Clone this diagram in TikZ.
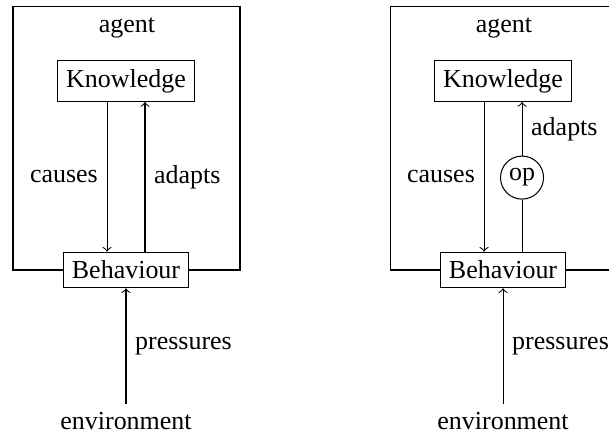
\documentclass[tikz,border=0pt]{standalone}
\usepackage{fontspec}
\setmainfont{Liberation Serif}
\usepackage{tikz}

\tikzset{
    box/.style={draw,rectangle},
    opnode/.style={draw,circle,inner sep=1.6pt}
}

\begin{document}
\begin{tikzpicture}
    \clip (0,0) rectangle (8.24,5.913);

    % Left: without operator
    \node [box] (K1) at (1.705,4.817) {Knowledge};
    \node [box] (B1) at (1.705,2.260) {Behaviour};
    \node (agent1) at (1.718,5.54) {agent};
    \node (env1) at (1.705,0.21) {environment};

    % Agent frame
    \coordinate (F1tl) at (0.176,5.831);
    \coordinate (F1br) at (3.247,2.260);
    \draw (B1.west) -| (F1tl) -| (F1br) -- (B1.east);

    \draw [->] ([xshift=-0.257cm]K1.south)
        -- node [left] {causes} ([xshift=-0.257cm]B1.north);
    \draw [->] ([xshift=0.257cm]B1.north)
        -- node [right] {adapts} ([xshift=0.257cm]K1.south);
    \draw [->] (env1) -- node [right] {pressures} (B1.south);

    % Right: with operator
    \node [box] (K2) at (6.806,4.817) {Knowledge};
    \node [box] (B2) at (6.806,2.260) {Behaviour};
    \node (agent2) at (6.819,5.54) {agent};
    \node (env2) at (6.806,0.21) {environment};
    \node [opnode] (op2) at (7.063,3.51) {op};

    % Agent frame
    \coordinate (F2tl) at (5.277,5.831);
    \coordinate (F2br) at (8.348,2.260);
    \draw (B2.west) -| (F2tl) -| (F2br) -- (B2.east);

    \draw [->] ([xshift=-0.257cm]K2.south)
        -- node [left] {causes} ([xshift=-0.257cm]B2.north);
    \draw (op2) -- (op2 |- B2.north);
    \draw [->] (op2) -- node [right] {adapts} (op2 |- K2.south);
    \draw [->] (env2) -- node [right] {pressures} (B2.south);
\end{tikzpicture}
\end{document}
